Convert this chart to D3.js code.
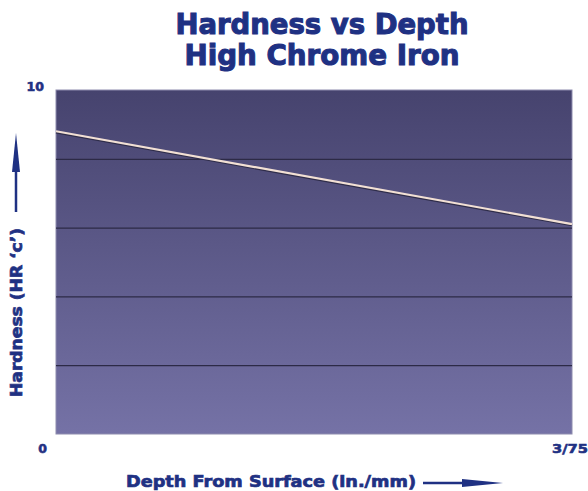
<!DOCTYPE html>
<html>
<head>
<meta charset="utf-8">
<script src="https://cdn.jsdelivr.net/npm/d3@7"></script>
<style>
  body { margin: 0; background: #ffffff; }
  text { font-family: "DejaVu Sans", Verdana, sans-serif; font-weight: bold; fill: #1f3183; stroke: #1f3183; }
</style>
</head>
<body>
<script>

// chart data
var depth = [0, 1];              // start and end of the depth range
var hardness = [8.8, 6.1];       // HR 'c' at surface and at full depth
var gridValues = [2, 4, 6, 8];
var xTickLabels = ["0", "3/75"];
var yTickLabels = ["0", "10"];
var titleLines = ["Hardness vs Depth", "High Chrome Iron"];

var w = 588;
var h = 491;

//Set chart margins
var margin = {
    top: 90,
    bottom: 57,
    right: 16,
    left: 56
};

var height = h - margin.top - margin.bottom;
var width = w - margin.left - margin.right;

//Set up scales
var x = d3.scaleLinear()
    .domain([0, 1])
    .range([0, width]);

var y = d3.scaleLinear()
    .domain([0, 10])
    .range([height, 0]);

var svg = d3.select("body").append("svg")
    .attr("width", w)
    .attr("height", h);

var defs = svg.append("defs");
var grad = defs.append("linearGradient")
    .attr("id", "bg")
    .attr("x1", 0).attr("y1", 0)
    .attr("x2", 0).attr("y2", 1);
grad.append("stop").attr("offset", "0%").attr("stop-color", "#46436e");
grad.append("stop").attr("offset", "100%").attr("stop-color", "#7572a6");

//Title
var titleLen = [293, 275];
svg.selectAll(".title")
    .data(titleLines)
    .enter()
    .append("text")
    .classed("title", true)
    .attr("x", 322)
    .attr("y", function(d, i) { return 34 + i * 31; })
    .attr("text-anchor", "middle")
    .attr("textLength", function(d, i) { return titleLen[i]; })
    .attr("lengthAdjust", "spacingAndGlyphs")
    .style("font-size", "28px")
    .style("stroke-width", "1.1px")
    .text(function(d) { return d; });

var chart = svg.append("g")
    .attr("transform", "translate(" + margin.left + "," + margin.top + ")");

//Plot background
chart.append("rect")
    .attr("x", x(0))
    .attr("y", y(10))
    .attr("width", x(1) - x(0))
    .attr("height", y(0) - y(10))
    .attr("fill", "url(#bg)")
    .attr("stroke", "#8e8cae")
    .attr("stroke-width", 1);

//Gridlines
var grid = chart.append("g")
    .classed("grid", true)
    .call(d3.axisLeft(y)
        .tickValues(gridValues)
        .tickSize(-width)
        .tickFormat(""));
grid.select(".domain").remove();
grid.selectAll("line")
    .attr("stroke", "#2c2a46")
    .attr("stroke-width", 1.2);

//Hardness line
var pts = depth.map(function(d, i) { return [d, hardness[i]]; });
var line = d3.line()
    .x(function(d) { return x(d[0]); })
    .y(function(d) { return y(d[1]); });

chart.append("path")
    .datum(pts)
    .attr("d", line)
    .attr("transform", "translate(0,1.2)")
    .attr("fill", "none")
    .attr("stroke", "#2f2d4a")
    .attr("stroke-width", 2);

chart.append("path")
    .datum(pts)
    .attr("d", line)
    .attr("fill", "none")
    .attr("stroke", "#f2e0d4")
    .attr("stroke-width", 2.2);

//Tick labels
chart.append("text")
    .attr("x", x(0) - 12)
    .attr("y", y(10) + 1)
    .attr("text-anchor", "end")
    .style("font-size", "12.5px")
    .style("stroke-width", "0.6px")
    .text(yTickLabels[1]);

chart.append("text")
    .attr("x", x(0) - 9)
    .attr("y", y(0) + 19)
    .attr("text-anchor", "end")
    .style("font-size", "12.5px")
    .style("stroke-width", "0.6px")
    .text(xTickLabels[0]);

chart.append("text")
    .attr("x", x(1) + 16)
    .attr("y", y(0) + 19)
    .attr("text-anchor", "end")
    .attr("textLength", 36)
    .attr("lengthAdjust", "spacingAndGlyphs")
    .style("font-size", "12.5px")
    .style("stroke-width", "0.6px")
    .text(xTickLabels[1]);

//Axis titles
svg.append("text")
    .attr("x", 126)
    .attr("y", 487)
    .attr("textLength", 290)
    .attr("lengthAdjust", "spacingAndGlyphs")
    .style("font-size", "16px")
    .style("stroke-width", "0.7px")
    .text("Depth From Surface (in./mm)");

svg.append("text")
    .attr("transform", "translate(22,397) rotate(-90)")
    .attr("textLength", 169)
    .attr("lengthAdjust", "spacingAndGlyphs")
    .style("font-size", "16px")
    .style("stroke-width", "0.7px")
    .text("Hardness (HR \u2018c\u2019)");

//Arrows
var arrowColor = "#1f3183";
svg.append("line")
    .attr("x1", 16).attr("y1", 212)
    .attr("x2", 16).attr("y2", 160)
    .attr("stroke", arrowColor)
    .attr("stroke-width", 2.5);
svg.append("path")
    .attr("d", "M16,133 L20,172 L12,172 Z")
    .attr("fill", arrowColor);

svg.append("line")
    .attr("x1", 423).attr("y1", 483)
    .attr("x2", 470).attr("y2", 483)
    .attr("stroke", arrowColor)
    .attr("stroke-width", 2.5);
svg.append("path")
    .attr("d", "M503,483 L462,479 L462,487 Z")
    .attr("fill", arrowColor);

</script>
</body>
</html>
